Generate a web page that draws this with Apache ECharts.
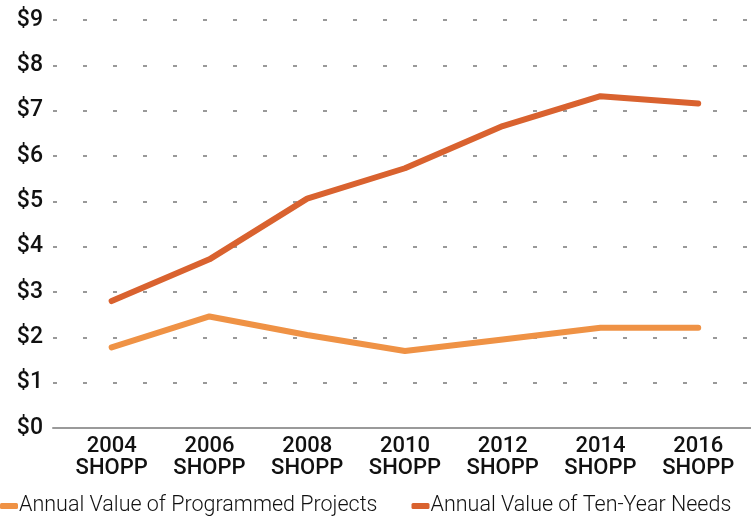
<!DOCTYPE html>
<html><head><meta charset="utf-8">
<script src="https://cdn.jsdelivr.net/npm/echarts@6/dist/echarts.min.js"></script>
<style>html,body{margin:0;padding:0;background:#fff}#c{width:751px;height:520px}</style>
</head><body><div id="c"></div>
<script>
const years = [2004, 2006, 2008, 2010, 2012, 2014, 2016];
const categoryLabels = ['2004\nSHOPP','2006\nSHOPP','2008\nSHOPP','2010\nSHOPP','2012\nSHOPP','2014\nSHOPP','2016\nSHOPP'];
const programmed = [1.78, 2.46, 2.05, 1.70, 1.95, 2.21, 2.21];
const needs = [2.80, 3.72, 5.06, 5.73, 6.66, 7.32, 7.16];
const seriesNames = ['Annual Value of Programmed Projects', 'Annual Value of Ten-Year Needs'];
const yTicks = [0,1,2,3,4,5,6,7,8,9];

const font = 'Roboto';
const chart = echarts.init(document.getElementById('c'));
const pairs = (vals) => years.map((y,i)=>[y, vals[i]]);
chart.setOption({
  animation: false,
  grid: {left: 53, right: 0, top: 20, bottom: 92, containLabel: false},
  xAxis: {
    type: 'value', min: 2002.8, max: 2017.08,
    axisLine: {show: true, lineStyle: {color: '#9a9a9a', width: 2}},
    axisTick: {show: false},
    splitLine: {show: false},
    axisLabel: {
      customValues: years,
      formatter: (v) => categoryLabels[years.indexOf(Math.round(v))] || '',
      color: '#111', fontFamily: font, fontSize: 22, fontWeight: 500, lineHeight: 22, margin: 7
    }
  },
  yAxis: {
    type: 'value', min: 0, max: 9, interval: 1,
    axisLine: {show: false}, axisTick: {show: false},
    axisLabel: {formatter: (v)=> '$' + v, color: '#111', fontFamily: font, fontSize: 23, fontWeight: 500, margin: 10},
    splitLine: {show: true, lineStyle: {color: '#999', width: 2, type: [4, 26]}}
  },
  legend: {
    bottom: 3, left: 0, padding: 0, itemGap: 34, itemWidth: 18, itemHeight: 6, icon: 'roundRect',
    textStyle: {fontFamily: font, fontSize: 21.5, color: '#111', fontWeight: 300, padding: [0,0,0,-4]},
    data: seriesNames
  },
  series: [
    {name: seriesNames[0], type: 'line', data: pairs(programmed), symbol: 'none', color: '#ef9245',
     lineStyle: {width: 6, cap: 'round', join: 'round'}},
    {name: seriesNames[1], type: 'line', data: pairs(needs), symbol: 'none', color: '#d9622f',
     lineStyle: {width: 6, cap: 'round', join: 'round'}}
  ]
});
</script></body></html>
